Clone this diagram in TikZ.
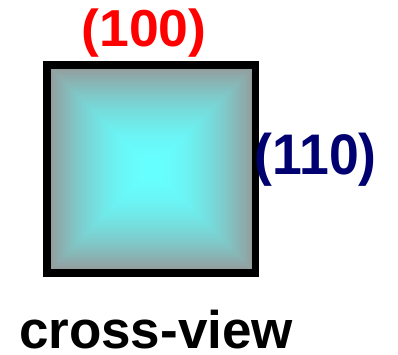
\documentclass[tikz,border=0pt]{standalone}
\usepackage{fontspec}
\setmainfont{Liberation Sans}
\definecolor{edgegray}{RGB}{150,152,152}
\definecolor{centercyan}{RGB}{102,255,255}
\definecolor{labred}{RGB}{255,0,0}
\definecolor{labnavy}{RGB}{0,0,112}
\tikzset{
  lab/.style={font=\bfseries\fontsize{52}{52}\selectfont, inner sep=0pt},
  frame/.style={draw=black, line width=7.5pt}
}
\begin{document}
\begin{tikzpicture}[x=1pt,y=1pt]
\useasboundingbox (0,0) rectangle (398,355);
% shading: concentric squares
\foreach \i in {0,...,50}{
  \pgfmathsetmacro{\p}{100*(1-(1-\i/50)^1.8)}
  \pgfmathsetmacro{\d}{2*\i}
  \fill[centercyan!\p!edgegray] (47+\d,82+\d) rectangle (255.5-\d,290-\d);
}
\node[frame, minimum width=208.5pt, minimum height=208pt, inner sep=0pt] (sq) at (151.25,186) {};
\node[lab, text=labred, anchor=base] (t100) at (144,308) {\scalebox{1.03}[1]{(100)}};
\node[lab, text=labnavy, anchor=base west] (t110) at (254.5,180) {\scalebox{1.03}[1.1]{(110)}};
\node[lab, anchor=base, font=\bfseries\fontsize{53}{53}\selectfont] (cv) at (156,6.5) {cross-view};
\end{tikzpicture}
\end{document}
